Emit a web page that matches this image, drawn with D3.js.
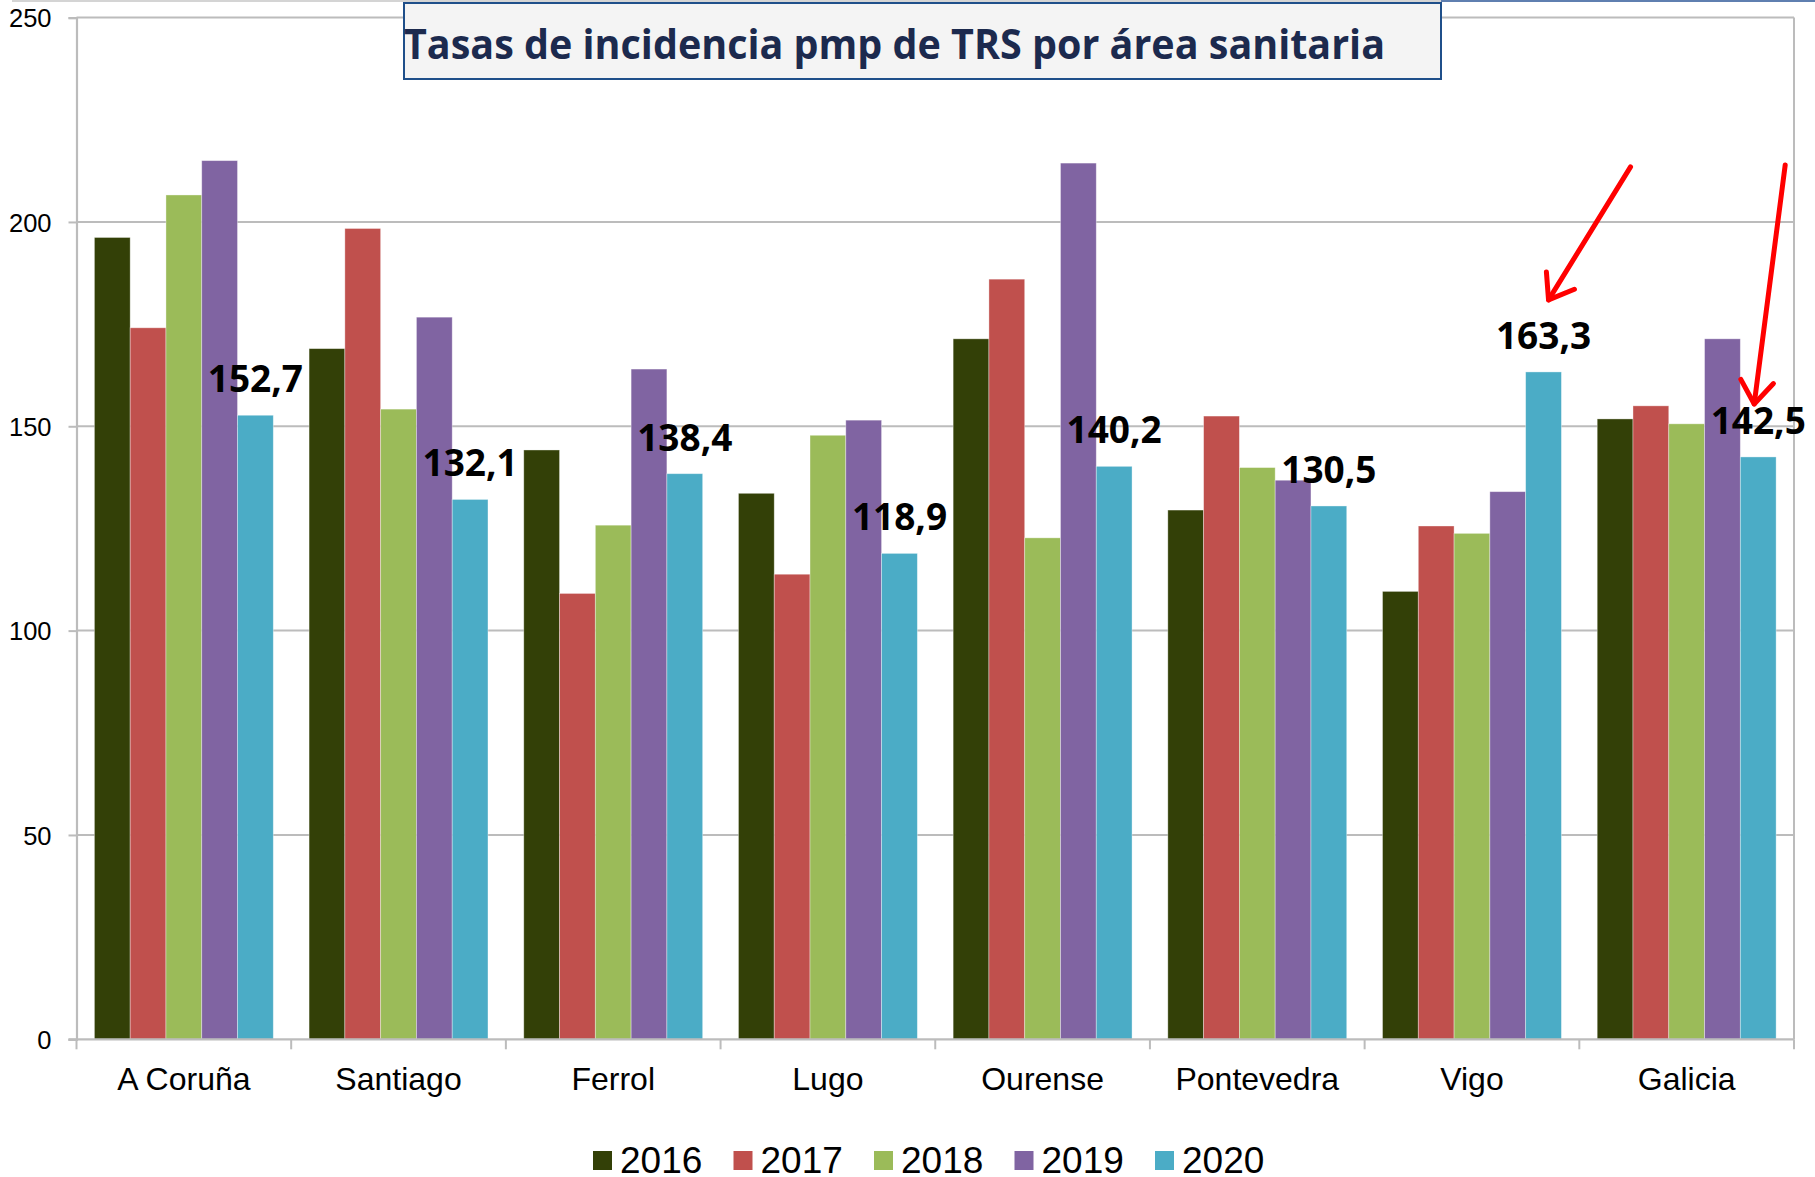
<!DOCTYPE html>
<html>
<head>
<meta charset="utf-8">
<script src="https://cdn.jsdelivr.net/npm/d3@7"></script>
<style>
  html, body { margin: 0; padding: 0; background: #ffffff; }
  svg { display: block; }
</style>
</head>
<body>
<svg id="chart" width="1815" height="1177"></svg>
<script>
// ---- data ----
const categories = ["A Coruña", "Santiago", "Ferrol", "Lugo", "Ourense", "Pontevedra", "Vigo", "Galicia"];
const years = ["2016", "2017", "2018", "2019", "2020"];
const v2016 = [196.2, 169.0, 144.2, 133.6, 171.4, 129.5, 109.6, 151.8];
const v2017 = [174.1, 198.4, 109.1, 113.8, 186.0, 152.5, 125.6, 155.0];
const v2018 = [206.6, 154.2, 125.8, 147.8, 122.7, 139.9, 123.8, 150.6];
const v2019 = [215.0, 176.7, 164.0, 151.5, 214.4, 136.8, 134.0, 171.4];
const v2020 = [152.7, 132.1, 138.4, 118.9, 140.2, 130.5, 163.3, 142.5];
const labels2020 = ["152,7", "132,1", "138,4", "118,9", "140,2", "130,5", "163,3", "142,5"];
const yTicks = [0, 50, 100, 150, 200, 250];
const titleText = "Tasas de incidencia pmp de TRS por área sanitaria";
const arrowTargets = ["Vigo", "Galicia"];

(function () {
const seriesValues = [v2016, v2017, v2018, v2019, v2020];
const colors = ["#334007", "#c0504d", "#9bbb59", "#8064a2", "#4bacc6"];

// ---- layout ----
const svg = d3.select("#chart");
const pLeft = 76.5, pRight = 1794, pTop = 17.6, pBottom = 1039.3;

const x = d3.scaleBand().domain(categories).range([pLeft, pRight]).padding(0);
const xi = d3.scaleBand().domain(years).range([0, x.bandwidth()]).paddingInner(0).paddingOuter(0.5);
const y = d3.scaleLinear().domain([0, 250]).range([pBottom, pTop]);

const gridColor = "#bcbcbc";

// top screenshot artifacts
svg.append("rect").attr("x", 12).attr("y", 0).attr("width", 1430).attr("height", 2).attr("fill", "#d4d4d4");
svg.append("rect").attr("x", 1441).attr("y", 0).attr("width", 374).attr("height", 2).attr("fill", "#5f7fb0");

// gridlines
svg.append("g").selectAll("line").data(yTicks.filter(d => d > 0)).join("line")
  .attr("x1", pLeft).attr("x2", pRight)
  .attr("y1", d => y(d)).attr("y2", d => y(d))
  .attr("stroke", gridColor).attr("stroke-width", 2);

// right border of plot area
svg.append("line").attr("x1", pRight).attr("x2", pRight).attr("y1", pTop).attr("y2", pBottom)
  .attr("stroke", gridColor).attr("stroke-width", 2);

// y axis
const yAxis = d3.axisLeft(y).tickValues(yTicks).tickSize(8).tickPadding(17).tickFormat(d3.format("d"));
const gy = svg.append("g").attr("transform", `translate(${pLeft},0)`).call(yAxis);
gy.select(".domain").attr("stroke", gridColor).attr("stroke-width", 2.2);
gy.selectAll(".tick line").attr("stroke", gridColor).attr("stroke-width", 2);
gy.selectAll(".tick text").attr("font-family", "'Liberation Sans', Arial, sans-serif")
  .attr("font-size", 25.5).attr("fill", "#000").attr("dy", "0.36em");

// bars
const gBars = svg.append("g");
categories.forEach((c, ci) => {
  years.forEach((yr, si) => {
    const v = seriesValues[si][ci];
    gBars.append("rect")
      .attr("x", x(c) + xi(yr))
      .attr("y", y(v))
      .attr("width", xi.bandwidth())
      .attr("height", y(0) - y(v))
      .attr("fill", colors[si])
      .attr("stroke", "#ffffff").attr("stroke-opacity", 0.45).attr("stroke-width", 0.8);
  });
});

// x axis
const xAxisG = svg.append("g");
xAxisG.append("line").attr("x1", pLeft - 8).attr("x2", pRight).attr("y1", pBottom).attr("y2", pBottom)
  .attr("stroke", gridColor).attr("stroke-width", 2.2);
const boundaries = categories.map(c => x(c)).concat([x(categories[categories.length - 1]) + x.bandwidth()]);
xAxisG.selectAll("line.tk").data(boundaries).join("line").attr("class", "tk")
  .attr("x1", d => d).attr("x2", d => d).attr("y1", pBottom).attr("y2", pBottom + 10)
  .attr("stroke", gridColor).attr("stroke-width", 2);
xAxisG.selectAll("text").data(categories).join("text")
  .attr("x", d => x(d) + x.bandwidth() / 2)
  .attr("y", 1089.5)
  .attr("text-anchor", "middle")
  .attr("font-family", "'Liberation Sans', Arial, sans-serif")
  .attr("font-size", 32).attr("fill", "#000")
  .text(d => d);

// data labels for 2020
svg.append("g").selectAll("text").data(categories).join("text")
  .attr("x", (d) => x(d) + xi("2020") + xi.bandwidth() / 2)
  .attr("y", (d, i) => y(v2020[i]) - 23)
  .attr("text-anchor", "middle")
  .attr("font-family", "'Open Sans', sans-serif")
  .attr("font-weight", 700)
  .attr("font-size", 37)
  .attr("fill", "#000")
  .text((d, i) => labels2020[i]);

// red arrows
const arrowG = svg.append("g").attr("fill", "none").attr("stroke", "#ff0000")
  .attr("stroke-width", 5).attr("stroke-linecap", "round").attr("stroke-linejoin", "round");
const arrowSpec = [
  { dx0: 87, dy0: -205, dx1: 5, dy1: -72 },
  { dx0: 27, dy0: -292, dx1: -4, dy1: -53 }
];
arrowTargets.forEach((c, k) => {
  const ci = categories.indexOf(c);
  const cx = x(c) + xi("2020") + xi.bandwidth() / 2;
  const cy = y(v2020[ci]);
  const s = arrowSpec[k];
  const x0 = cx + s.dx0, y0 = cy + s.dy0, x1 = cx + s.dx1, y1 = cy + s.dy1;
  arrowG.append("line").attr("x1", x0).attr("y1", y0).attr("x2", x1).attr("y2", y1);
  const ang = Math.atan2(y1 - y0, x1 - x0);
  const L = 28, spread = Math.PI / 5;
  const pts = [
    [x1 - L * Math.cos(ang - spread), y1 - L * Math.sin(ang - spread)],
    [x1, y1],
    [x1 - L * Math.cos(ang + spread), y1 - L * Math.sin(ang + spread)]
  ];
  arrowG.append("path").attr("d", d3.line()(pts));
});

// title box
const tb = svg.append("g");
tb.append("rect").attr("x", 404).attr("y", 3).attr("width", 1037).attr("height", 76)
  .attr("fill", "#f4f4f4").attr("stroke", "#1f4f8a").attr("stroke-width", 2);
tb.append("text")
  .attr("x", 404).attr("y", 59)
  .attr("font-family", "'Open Sans', sans-serif")
  .attr("font-weight", 700).attr("font-size", 41.5)
  .attr("fill", "#1c2a4e")
  .attr("textLength", 981).attr("lengthAdjust", "spacingAndGlyphs")
  .text(titleText);

// legend
const legend = svg.append("g");
const legX0 = 593, legStep = 140.5;
years.forEach((yr, i) => {
  const lx = legX0 + i * legStep;
  legend.append("rect").attr("x", lx).attr("y", 1151).attr("width", 19).attr("height", 19).attr("fill", colors[i]);
  legend.append("text").attr("x", lx + 27).attr("y", 1172.5)
    .attr("font-family", "'Liberation Sans', Arial, sans-serif")
    .attr("font-size", 37).attr("fill", "#000").text(yr);
});
})();
</script>
</body>
</html>
